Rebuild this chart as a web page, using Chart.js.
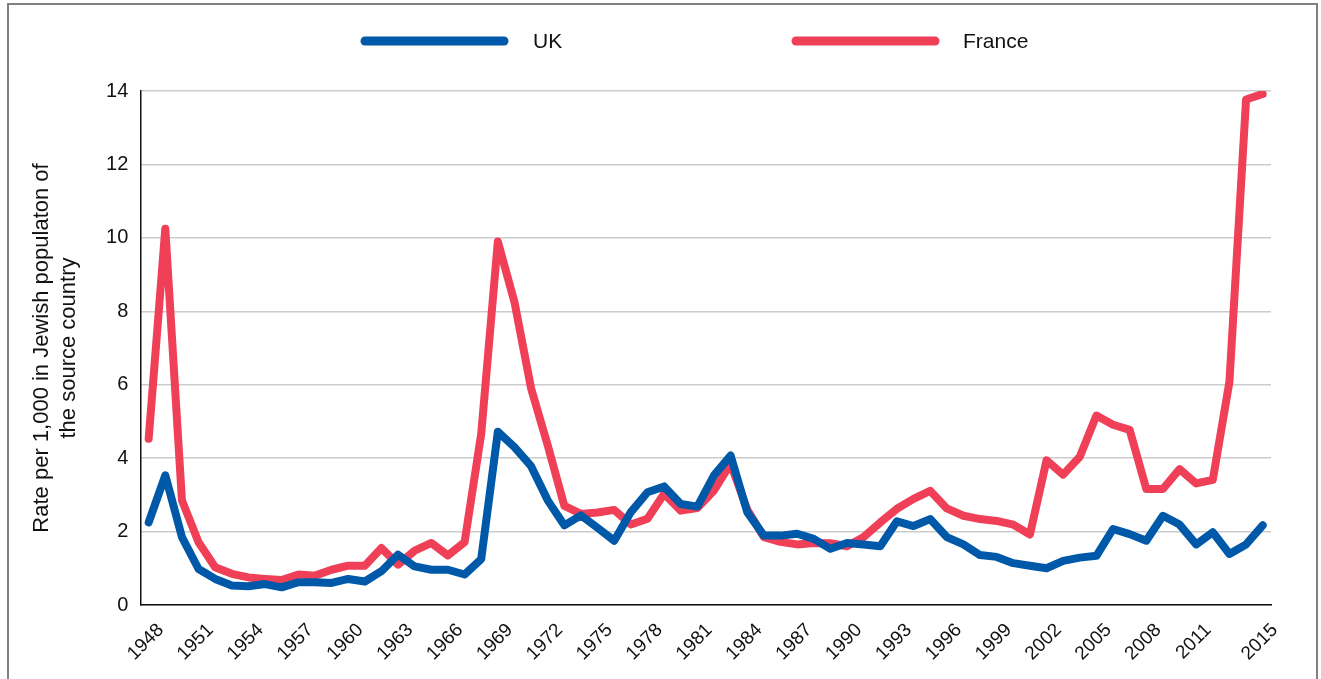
<!DOCTYPE html>
<html>
<head>
<meta charset="utf-8">
<script src="https://cdn.jsdelivr.net/npm/chart.js@4/dist/chart.umd.min.js"></script>
<style>
  html, body { margin: 0; padding: 0; background: #fff; overflow: hidden; }
  #frame {
    position: absolute; left: 7px; top: 3px; width: 1311px; height: 700px;
    border: 2px solid #808080; box-sizing: border-box;
  }
  #wrap { position: absolute; left: 0; top: 0; width: 1321px; height: 679px; }
</style>
</head>
<body>
<div id="frame"></div>
<div id="wrap"><canvas id="chart"></canvas></div>
<script>
// years 1948..2015
const years = [];
for (let y = 1948; y <= 2015; y++) years.push(String(y));

// rate per 1,000 of the Jewish population
const ukRates = [
  2.25, 3.53, 1.85, 0.98, 0.71, 0.53, 0.51, 0.57, 0.48, 0.62,
  0.62, 0.60, 0.71, 0.64, 0.92, 1.37, 1.05, 0.96, 0.96, 0.83,
  1.25, 4.72, 4.30, 3.78, 2.85, 2.17, 2.44, 2.10, 1.75, 2.53,
  3.07, 3.23, 2.75, 2.68, 3.53, 4.07, 2.53, 1.89, 1.89, 1.94,
  1.80, 1.53, 1.69, 1.65, 1.60, 2.28, 2.15, 2.34, 1.85, 1.65,
  1.36, 1.31, 1.14, 1.07, 1.00, 1.20, 1.29, 1.34, 2.07, 1.93,
  1.75, 2.43, 2.19, 1.65, 1.98, 1.39, 1.65, 2.17
];
const franceRates = [
  4.53, 10.25, 2.85, 1.71, 1.03, 0.85, 0.75, 0.71, 0.68, 0.83,
  0.80, 0.96, 1.07, 1.07, 1.55, 1.10, 1.48, 1.69, 1.35, 1.71,
  4.66, 9.90, 8.25, 5.90, 4.35, 2.70, 2.48, 2.52, 2.59, 2.19,
  2.35, 3.03, 2.57, 2.64, 3.12, 3.85, 2.60, 1.85, 1.72, 1.65,
  1.69, 1.68, 1.60, 1.85, 2.25, 2.62, 2.89, 3.11, 2.63, 2.43,
  2.34, 2.29, 2.19, 1.92, 3.94, 3.55, 4.04, 5.16, 4.91, 4.77,
  3.16, 3.16, 3.70, 3.31, 3.41, 6.08, 13.77, 13.92
];

// x labels shown under the axis
const shownYears = [
  '1948', '1951', '1954', '1957', '1960', '1963', '1966', '1969', '1972',
  '1975', '1978', '1981', '1984', '1987', '1990', '1993', '1996', '1999',
  '2002', '2005', '2008', '2011', '2015'
];

const FONT = '"Liberation Sans", Arial, sans-serif';

// legend drawn by hand so the two items sit where they do in the original
const topLegend = {
  id: 'topLegend',
  afterDraw(chart) {
    const ctx = chart.ctx;
    const spots = [{ x: 361, tx: 533 }, { x: 792, tx: 963 }];
    chart.data.datasets.forEach((ds, i) => {
      const s = spots[i];
      ctx.save();
      ctx.strokeStyle = ds.borderColor;
      ctx.lineWidth = 9;
      ctx.lineCap = 'round';
      ctx.beginPath();
      ctx.moveTo(s.x + 4, 41);
      ctx.lineTo(s.x + 143, 41);
      ctx.stroke();
      ctx.fillStyle = '#111';
      ctx.font = '21px ' + FONT;
      ctx.textBaseline = 'middle';
      ctx.fillText(ds.label, s.tx, 42);
      ctx.restore();
    });
  }
};

new Chart(document.getElementById('chart'), {
  type: 'line',
  data: {
    labels: years,
    datasets: [
      {
        label: 'UK',
        data: ukRates,
        borderColor: '#0059a8',
        backgroundColor: '#0059a8',
        borderWidth: 8,
        borderCapStyle: 'round',
        borderJoinStyle: 'round',
        pointRadius: 0,
        tension: 0
      },
      {
        label: 'France',
        data: franceRates,
        borderColor: '#ef4058',
        backgroundColor: '#ef4058',
        borderWidth: 8,
        borderCapStyle: 'round',
        borderJoinStyle: 'round',
        pointRadius: 0,
        tension: 0
      }
    ]
  },
  options: {
    responsive: true,
    maintainAspectRatio: false,
    animation: false,
    layout: { padding: { top: 91, left: 19, right: 50, bottom: 0 } },
    plugins: {
      legend: { display: false },
      tooltip: { enabled: false }
    },
    scales: {
      x: {
        offset: true,
        grid: { display: false, drawTicks: false },
        border: { color: '#111', width: 1.5 },
        ticks: {
          autoSkip: false,
          maxRotation: 45,
          minRotation: 45,
          padding: 14,
          labelOffset: 12,
          color: '#111',
          font: { family: FONT, size: 19 },
          callback: function (value) {
            const y = this.getLabelForValue(value);
            return shownYears.includes(y) ? y : '';
          }
        }
      },
      y: {
        min: 0,
        max: 14,
        grid: { color: '#cccccc', lineWidth: 1.5, drawTicks: false },
        border: { color: '#111', width: 1.5 },
        ticks: {
          stepSize: 2,
          padding: 12,
          color: '#111',
          font: { family: FONT, size: 20 }
        },
        title: {
          display: true,
          text: ['Rate per 1,000 in Jewish populaton of', 'the source country'],
          color: '#111',
          font: { family: FONT, size: 22, lineHeight: 1.23 },
          padding: { top: 9, bottom: 12 }
        }
      }
    }
  },
  plugins: [topLegend]
});
</script>
</body>
</html>
